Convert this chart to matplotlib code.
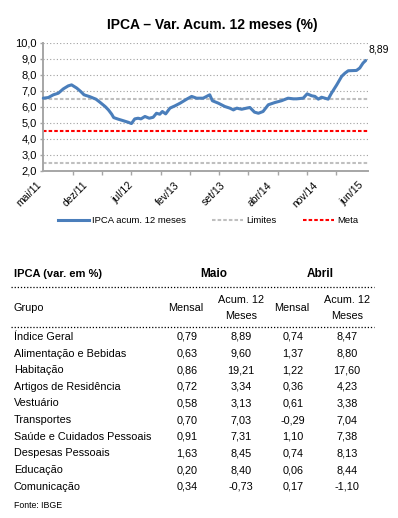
import matplotlib
matplotlib.use("Agg")
import matplotlib.pyplot as plt
from matplotlib.lines import Line2D

plt.rcParams['font.family'] = ['Liberation Sans', 'DejaVu Sans']

W, H = 398, 518

# serie IPCA acumulado 12 meses (posicao em meses a partir de mai/11)
meses = [0.0, 0.76, 1.52, 2.28, 3.04, 3.8, 4.3, 5.08, 5.68, 6.19, 7.1, 8.0, 8.6, 9.4, 9.9,
         10.4, 10.7, 11.4, 12.2, 12.9, 13.4, 13.9, 14.4, 14.85, 15.45, 16.1, 16.7, 17.2,
         17.7, 18.1, 18.6, 19.25, 20.0, 20.8, 21.8, 22.55, 23.3, 24.3, 25.1, 25.3, 25.7,
         26.6, 27.6, 28.35, 28.9, 29.4, 30.15, 30.9, 31.4, 32.1, 32.7, 33.4, 34.2, 35.2,
         36.2, 37.2, 38.0, 38.5, 39.5, 40.1, 40.8, 41.3, 41.8, 42.3, 43.3, 43.8, 44.6,
         45.35, 45.85, 46.35, 47.6, 48.1, 48.6, 49.0]
ipca = [6.54, 6.58, 6.75, 6.85, 7.12, 7.31, 7.37, 7.17, 6.96, 6.75, 6.63, 6.48, 6.29, 6.02,
        5.81, 5.54, 5.33, 5.23, 5.13, 5.04, 4.96, 5.25, 5.29, 5.25, 5.40, 5.29, 5.35, 5.60,
        5.54, 5.71, 5.56, 5.92, 6.06, 6.23, 6.48, 6.65, 6.54, 6.54, 6.71, 6.75, 6.38, 6.23,
        6.02, 5.92, 5.81, 5.92, 5.85, 5.92, 5.96, 5.67, 5.60, 5.71, 6.13, 6.27, 6.38, 6.54,
        6.50, 6.50, 6.54, 6.81, 6.69, 6.65, 6.48, 6.60, 6.48, 6.85, 7.37, 7.90, 8.10, 8.25,
        8.27, 8.42, 8.73, 8.89]

limite_sup = 6.5
limite_inf = 2.5
meta = 4.5

rotulos_x = ['mai/11', 'dez/11', 'jul/12', 'fev/13', 'set/13', 'abr/14', 'nov/14', 'jun/15']
pos_x = [0, 7, 14, 21, 28, 35, 42, 49]
ticks_y = [2, 3, 4, 5, 6, 7, 8, 9, 10]

# tabela
grupos = ['Índice Geral', 'Alimentação e Bebidas', 'Habitação', 'Artigos de Residência',
          'Vestuário', 'Transportes', 'Saúde e Cuidados Pessoais', 'Despesas Pessoais',
          'Educação', 'Comunicação']
maio_mensal = [0.79, 0.63, 0.86, 0.72, 0.58, 0.70, 0.91, 1.63, 0.20, 0.34]
maio_acum = [8.89, 9.60, 19.21, 3.34, 3.13, 7.03, 7.31, 8.45, 8.40, -0.73]
abril_mensal = [0.74, 1.37, 1.22, 0.36, 0.61, -0.29, 1.10, 0.74, 0.06, 0.17]
abril_acum = [8.47, 8.80, 17.60, 4.23, 3.38, 7.04, 7.38, 8.13, 8.44, -1.10]


def fx(px):
    return px / W


def fy(py):
    return 1 - py / H


def br(v, casas=2):
    return f"{v:.{casas}f}".replace('.', ',')


def texto(px, py, s, size=7.8, **kw):
    # py = centro vertical das maiusculas, em pixels a partir do topo
    base = py + 0.716 * size * 100 / 72 / 2
    fig.text(fx(px), fy(base), s, va='baseline', fontsize=size, **kw)


fig = plt.figure(figsize=(W / 100, H / 100), dpi=100)
fig.patch.set_facecolor('white')

azul = '#4A7EBB'
cinza = '#BFBFBF'
eixo = '#A6A6A6'

ax = fig.add_axes([fx(43.3), fy(171), fx(368.3) - fx(43.3), fy(42.7) - fy(171)])
ax.set_xlim(0, 49.4)
ax.set_ylim(2, 10)

for v in ticks_y[1:]:
    ax.axhline(v, color='#A0A0A0', lw=0.8, ls=(0, (1, 2)), zorder=1)

ax.axhline(limite_sup, color=cinza, lw=1.5, dashes=(1.7, 1.0), zorder=2)
ax.axhline(limite_inf, color=cinza, lw=1.5, dashes=(1.7, 1.0), zorder=2)
ax.axhline(meta, color='#FF0000', lw=1.5, dashes=(1.7, 1.0), zorder=2)
ax.plot(meses, ipca, color=azul, lw=2.2, solid_capstyle='round',
        solid_joinstyle='round', zorder=3, clip_on=False)

ax.annotate(br(ipca[-1]), xy=(meses[-1], ipca[-1]), xytext=(3, 11),
            textcoords='offset pixels', ha='left', va='center', fontsize=7.5)

for s in ['top', 'right']:
    ax.spines[s].set_visible(False)
for s in ['left', 'bottom']:
    ax.spines[s].set_color(eixo)
    ax.spines[s].set_linewidth(1.4)

ax.set_yticks(ticks_y)
ax.set_yticklabels([br(v, 1) for v in ticks_y], fontsize=8)
ax.tick_params(axis='y', length=2.5, width=1, color=eixo, pad=2)

ax.set_xticks(pos_x)
ax.set_xticklabels(rotulos_x, rotation=45, ha='right', va='top', fontsize=7.5)
ax.tick_params(axis='x', which='major', length=0, pad=6.5)
ax.set_xticks([49 * k / 11 for k in range(12)], minor=True)
ax.tick_params(axis='x', which='minor', length=3, width=1, color=eixo)

fig.text(fx(212.5), fy(25), 'IPCA – Var. Acum. 12 meses (%)', ha='center', va='center',
         fontsize=10, fontweight='bold')

handles = [Line2D([], [], color=azul, lw=2.2),
           Line2D([], [], color=cinza, lw=1.5, dashes=(1.7, 1.0)),
           Line2D([], [], color='#FF0000', lw=1.5, dashes=(1.7, 1.0))]
fig.legend(handles, ['IPCA acum. 12 meses', 'Limites', 'Meta'], loc='center',
           bbox_to_anchor=(fx(208), fy(221)), ncol=3, frameon=False, fontsize=6.8,
           handlelength=3.3, handletextpad=0.3, columnspacing=2.8, borderpad=0)

# tabela
cols = [187, 241, 293, 347]
texto(14, 273, 'IPCA (var. em %)', size=8, ha='left', fontweight='bold')
texto(214, 273, 'Maio', size=8.5, ha='center', fontweight='bold')
texto(320, 273, 'Abril', size=8.5, ha='center', fontweight='bold')

for py in [287.3, 327.3]:
    fig.add_artist(Line2D([fx(11), fx(374)], [fy(py), fy(py)], color='black', lw=0.9,
                          ls=(0, (1, 1.5))))

texto(14, 307.5, 'Grupo', ha='left')
for c in [cols[0], cols[2]]:
    texto(c - 1, 307.5, 'Mensal', ha='center')
for c in [cols[1], cols[3]]:
    texto(c, 299.3, 'Acum. 12', ha='center')
    texto(c, 315.3, 'Meses', ha='center')

for i, g in enumerate(grupos):
    py = 336 + 16.65 * i
    texto(14, py, g, ha='left')
    for c, serie in zip(cols, [maio_mensal, maio_acum, abril_mensal, abril_acum]):
        texto(c, py, br(serie[i]), ha='center')

texto(14, 505, 'Fonte: IBGE', size=6.3, ha='left')

fig.savefig('out.png', dpi=100)
